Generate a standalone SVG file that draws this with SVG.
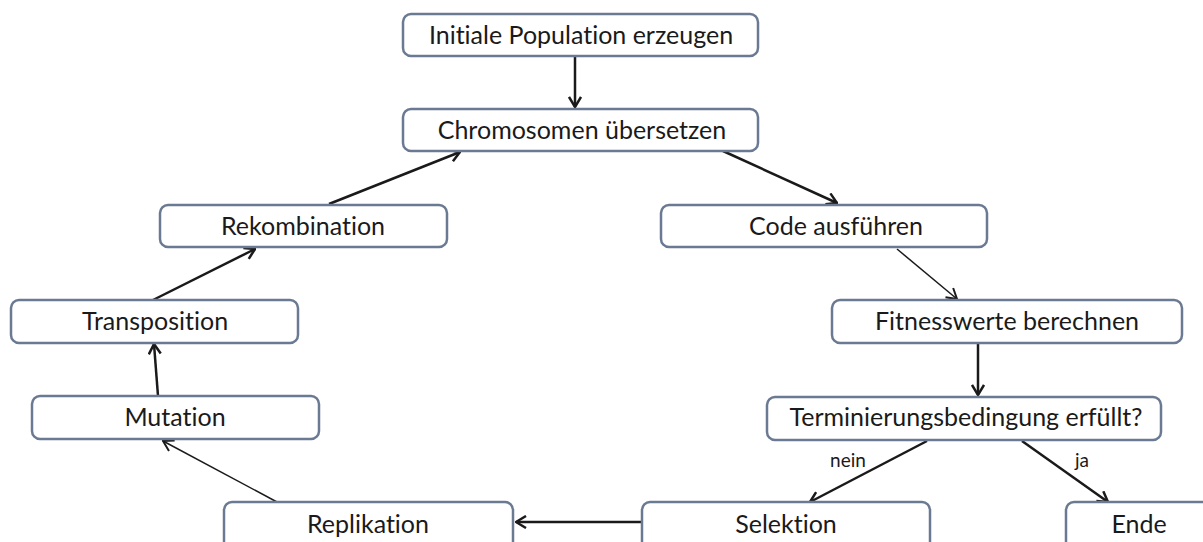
<svg xmlns="http://www.w3.org/2000/svg" width="1203" height="542" viewBox="0 0 1203 542">
<defs>
<style>
.box{fill:#fff;stroke:#6b7a93;stroke-width:2.5}
.t{font-family:Lato,"Open Sans",sans-serif;font-size:25px;fill:#1a1a1a;text-anchor:middle;font-variant-ligatures:none}
.lbl{font-family:Lato,"Open Sans",sans-serif;font-size:19px;fill:#1a1a1a;text-anchor:middle;font-variant-ligatures:none}
.c{fill:none;stroke:#1a1a1a;stroke-width:2.5}
.thin{stroke-width:1.5}
</style>
<marker id="ah" viewBox="0 0 12 14" refX="11" refY="7" markerWidth="12" markerHeight="14" markerUnits="userSpaceOnUse" orient="auto">
<path d="M1,1 L11,7 L1,13" fill="none" stroke="#1a1a1a" stroke-width="2.5"/>
</marker>
<marker id="ah2" viewBox="0 0 12 14" refX="11" refY="7" markerWidth="12" markerHeight="14" markerUnits="userSpaceOnUse" orient="auto">
<path d="M1,1 L11,7 L1,13" fill="none" stroke="#1a1a1a" stroke-width="2"/>
</marker>
</defs>
<rect width="1203" height="542" fill="#fff"/>
<g id="connectors">
<line class="c" x1="575" y1="56" x2="575" y2="107" marker-end="url(#ah)"/>
<line class="c" x1="723" y1="151" x2="837" y2="203" marker-end="url(#ah)"/>
<line class="c thin" x1="897" y1="249" x2="957" y2="299" marker-end="url(#ah2)"/>
<line class="c" x1="978" y1="344" x2="978" y2="395" marker-end="url(#ah)"/>
<line class="c" x1="927" y1="441" x2="810" y2="502" marker-end="url(#ah)"/>
<line class="c" x1="1022" y1="441" x2="1108" y2="502" marker-end="url(#ah)"/>
<line class="c" x1="642" y1="522" x2="516" y2="522" marker-end="url(#ah)"/>
<line class="c thin" x1="277" y1="502" x2="163" y2="441" marker-end="url(#ah2)"/>
<line class="c" x1="158" y1="396" x2="154" y2="344" marker-end="url(#ah)"/>
<line class="c" x1="153" y1="300" x2="255" y2="249" marker-end="url(#ah)"/>
<line class="c" x1="329" y1="204" x2="460" y2="152" marker-end="url(#ah)"/>
<text class="lbl" x="848" y="467">nein</text>
<text class="lbl" x="1082" y="467">ja</text>
</g>
<g id="n1"><rect class="box" x="403" y="14" width="355" height="42" rx="8"/><text class="t" x="581" y="44">Initiale Population erzeugen</text></g>
<g id="n2"><rect class="box" x="403" y="109" width="355" height="42" rx="8"/><text class="t" x="582" y="139">Chromosomen übersetzen</text></g>
<g id="n3"><rect class="box" x="160" y="205" width="287" height="42" rx="8"/><text class="t" x="303" y="235">Rekombination</text></g>
<g id="n4"><rect class="box" x="661" y="205" width="326" height="42" rx="8"/><text class="t" x="836" y="235">Code ausführen</text></g>
<g id="n5"><rect class="box" x="11" y="300" width="287" height="43" rx="8"/><text class="t" x="155" y="330">Transposition</text></g>
<g id="n6"><rect class="box" x="832" y="300" width="350" height="43" rx="8"/><text class="t" x="1007" y="330">Fitnesswerte berechnen</text></g>
<g id="n7"><rect class="box" x="32" y="396" width="287" height="43" rx="8"/><text class="t" x="175" y="426">Mutation</text></g>
<g id="n8"><rect class="box" x="767" y="397" width="394" height="43" rx="8"/><text class="t" x="966" y="426">Terminierungsbedingung erfüllt?</text></g>
<g id="n9"><rect class="box" x="224" y="502" width="289" height="50" rx="8"/><text class="t" x="368" y="533">Replikation</text></g>
<g id="n10"><rect class="box" x="642" y="502" width="288" height="50" rx="8"/><text class="t" x="786" y="533">Selektion</text></g>
<g id="n11"><rect class="box" x="1066" y="502" width="150" height="50" rx="8"/><text class="t" x="1139" y="533">Ende</text></g>
</svg>
